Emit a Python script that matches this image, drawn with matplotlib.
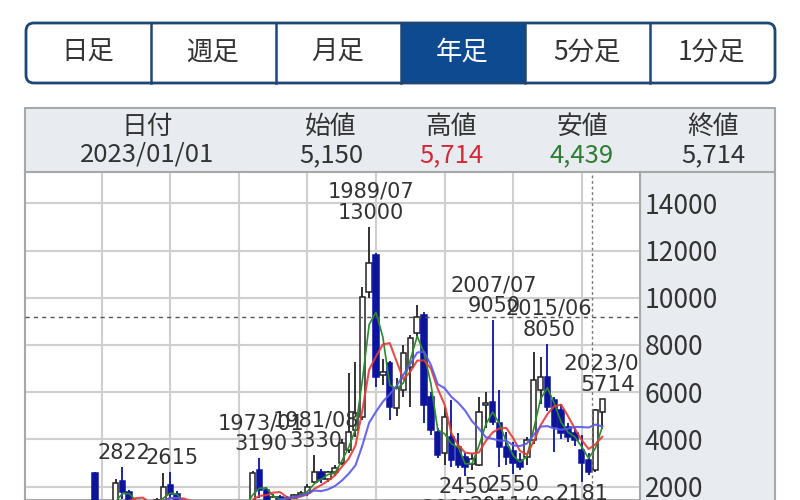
import numpy as np
import pandas as pd
import matplotlib
matplotlib.use('Agg')
from matplotlib import pyplot as plt
from matplotlib.patches import Rectangle, FancyBboxPatch

plt.rcParams['font.family'] = ['Noto Sans CJK JP', 'DejaVu Sans']

# yearly candles 1949-2023 (low years are below the visible area)
years = list(range(1949, 2024))
opens = [2560, 900, 700, 1200, 2250, 1780, 1200, 1250, 1300, 1100,
         1400, 2050, 1700, 1300, 1000, 950, 800, 850, 1000, 800,
         1050, 1250, 1000, 1350, 2700, 1850, 1400, 1550, 1450, 1500,
         1650, 1720, 2200, 2600, 2300, 2600, 2990, 3550, 4400, 4960,
         10250, 11810, 6720, 7220, 5310, 6090, 7080, 8490, 9270, 5810,
         4330, 3400, 4110, 3690, 3260, 2950, 2920, 5460, 5590, 4680,
         3690, 3500, 3120, 3260, 3970, 6100, 6650, 5670, 5240, 4540,
         4250, 3550, 3120, 2700, 5150]
highs = [2600, 1200, 1300, 2300, 2822, 1850, 1350, 1380, 1390, 1500,
         2580, 2615, 1800, 1350, 1200, 1050, 900, 1100, 1050, 1100,
         1300, 1350, 1400, 2650, 3190, 2000, 1700, 1650, 1600, 1700,
         1800, 2100, 3330, 2750, 2650, 2900, 4000, 6800, 7290, 10470,
         13000, 11900, 7400, 7300, 6600, 8000, 8400, 9690, 9400, 6000,
         4500, 5380, 5670, 4250, 3400, 3400, 5810, 6000, 9050, 6090,
         4300, 3900, 3400, 4100, 7710, 7500, 8050, 5800, 5500, 4700,
         4500, 4200, 3400, 5300, 5714]
lows = [600, 500, 650, 1100, 1300, 1000, 1000, 1100, 1000, 1050,
        1350, 1500, 1200, 900, 850, 700, 600, 800, 750, 780,
        1000, 900, 950, 1300, 1500, 1200, 1300, 1350, 1300, 1400,
        1550, 1600, 2150, 2150, 2200, 2450, 2900, 3400, 4100, 4800,
        9970, 6230, 6300, 4820, 5000, 5800, 5380, 8300, 4680, 4200,
        3200, 2900, 2840, 2800, 2450, 2700, 2850, 4500, 4600, 2840,
        2900, 2550, 2700, 2900, 3800, 5500, 5200, 3480, 4000, 3900,
        3700, 2181, 2500, 2600, 4439]
closes = [900, 700, 1200, 2150, 1750, 1200, 1250, 1300, 1100, 1450,
          2000, 1700, 1300, 1000, 950, 800, 850, 1000, 800, 1050,
          1250, 1000, 1350, 2570, 1850, 1400, 1550, 1450, 1500, 1650,
          1720, 2000, 2630, 2300, 2600, 2800, 3830, 4330, 5100, 10040,
          11460, 6650, 6860, 5380, 6160, 7640, 8280, 9200, 5460, 4400,
          3340, 4960, 3120, 2920, 2840, 3150, 5170, 5540, 4750, 3690,
          3260, 3000, 2840, 3970, 6510, 6650, 5380, 4540, 4250, 4100,
          3970, 2990, 2630, 5240, 5714]

high_marks = [(1953, '', 2822), (1960, '', 2615), (1973, '1973/01', 3190),
              (1981, '1981/08', 3330), (1989, '1989/07', 13000),
              (2007, '2007/07', 9050), (2015, '2015/06', 8050), (2023, '2023/01', 5714)]
low_marks = [(2003, '2003/03', 2450), (2010, '2011/09', 2550), (2020, '2020/03', 2181)]

buttons = ['日足', '週足', '月足', '年足', '5分足', '1分足']
head_labels = ['日付', '始値', '高値', '安値', '終値']
head_values = ['2023/01/01', '5,150', '5,714', '4,439', '5,714']

up_col, dn_col = '#222222', '#0c149c'
panel_bg, border = '#e8ecf0', '#a8a8a8'
txt = '#333333'

fig = plt.figure(figsize=(8, 5), dpi=100)

# background layer in pixel coordinates
bg = fig.add_axes([0, 0, 1, 1], zorder=0)
bg.set_xlim(0, 800)
bg.set_ylim(500, 0)
bg.axis('off')

# period buttons
bx0, bx1, by0, by1 = 26, 775, 23, 83
bw = (bx1 - bx0) / len(buttons)
bg.add_patch(Rectangle((bx0 + 3 * bw, by0), bw, by1 - by0, fc='#0e4a90', ec='none'))
bg.add_patch(FancyBboxPatch((bx0, by0), bx1 - bx0, by1 - by0,
                            boxstyle='round,pad=0,rounding_size=8',
                            fc='none', ec='#1d4677', lw=2))
for i, b in enumerate(buttons):
    if i > 0:
        bg.plot([bx0 + i * bw] * 2, [by0, by1], color='#1d4677', lw=1.8)
    bg.text(bx0 + (i + 0.5) * bw - 1, 52, b, ha='center', va='center', fontsize=19,
            color='white' if i == 3 else txt)

# info header
bg.add_patch(Rectangle((25, 108), 750, 64, fc=panel_bg, ec=border, lw=1.5))
head_x = [147, 331, 451, 582, 713]
val_cols = [txt, txt, '#d42a35', '#2f7d34', txt]
for hx, lab, val, c in zip(head_x, head_labels, head_values, val_cols):
    bg.text(hx, 127, lab, ha='center', va='center', fontsize=18.5, color=txt)
    bg.text(hx, 155, val, ha='center', va='center', fontsize=18.5, color=c)

# right price panel
bg.add_patch(Rectangle((640, 172), 135, 340, fc=panel_bg, ec=border, lw=1.5))

# chart
ax = fig.add_axes([25 / 800, 0, 615 / 800, 328 / 500], zorder=1)
ax.set_facecolor('white')
ax.set_xlim(1938.8, 2028.5)
ax.set_ylim(1429, 15326)
ax.set_xticks(range(1950, 2030, 10))
ax.set_yticks(range(2000, 16000, 2000))
ax.grid(True, color='#cfcfcf', lw=1.5)
ax.set_axisbelow(True)
ax.tick_params(axis='x', length=0, labelbottom=False)
ax.yaxis.tick_right()
ax.tick_params(axis='y', length=0, pad=3.5, labelsize=19, labelcolor=txt)
for s in ax.spines.values():
    s.set_color(border)
    s.set_linewidth(1.5)

o, h, l, c = map(np.array, (opens, highs, lows, closes))
yr = np.array(years)
up = c >= o
ax.vlines(yr[up], l[up], h[up], color=up_col, lw=1.3, zorder=2)
ax.vlines(yr[~up], l[~up], h[~up], color=dn_col, lw=1.3, zorder=2)
ax.bar(yr[up], (c - o)[up], bottom=o[up], width=0.8, color='white',
       edgecolor=up_col, lw=1.1, zorder=3)
ax.bar(yr[~up], (o - c)[~up], bottom=c[~up], width=0.8, color=dn_col,
       edgecolor=dn_col, lw=1.1, zorder=3)

close_s = pd.Series(closes, index=years)
ax.plot(yr, close_s.rolling(3).mean(), color='#2b8a2b', lw=1.2, zorder=4)
ax.plot(yr, close_s.rolling(5).mean(), color='#e23b36', lw=1.5, zorder=4, alpha=0.9)
ax.plot(yr, close_s.rolling(10).mean(), color='#5858e8', lw=1.5, zorder=4, alpha=0.9)

# crosshair
ax.axhline(9195, color='#555555', lw=1, ls=(0, (3, 3)), zorder=5)
ax.axvline(2021.5, color='#777777', lw=1, ls=(0, (2, 2)), zorder=5)

for y, d, v in high_marks:
    s = f'{d}\n{v}' if d else str(v)
    dx = 4 if y == 2023 else 1
    t = ax.annotate(s, (y, v), xytext=(dx, 3), textcoords='offset points', ha='center',
                    va='bottom', fontsize=15.5 if y == 2023 else 15, color=txt,
                    linespacing=1.05, family='DejaVu Sans', annotation_clip=False, zorder=6)
    t.set_clip_box(ax.bbox)
    t.set_clip_on(True)
for y, d, v in low_marks:
    t = ax.annotate(f'{v}\n{d}', (y, v), xytext=(0, -1), textcoords='offset points',
                    ha='center', va='top', fontsize=15, color=txt, linespacing=1.05,
                    family='DejaVu Sans', annotation_clip=False, zorder=6)
    t.set_clip_box(ax.bbox)
    t.set_clip_on(True)

fig.savefig('out.png', dpi=100, facecolor='white')
